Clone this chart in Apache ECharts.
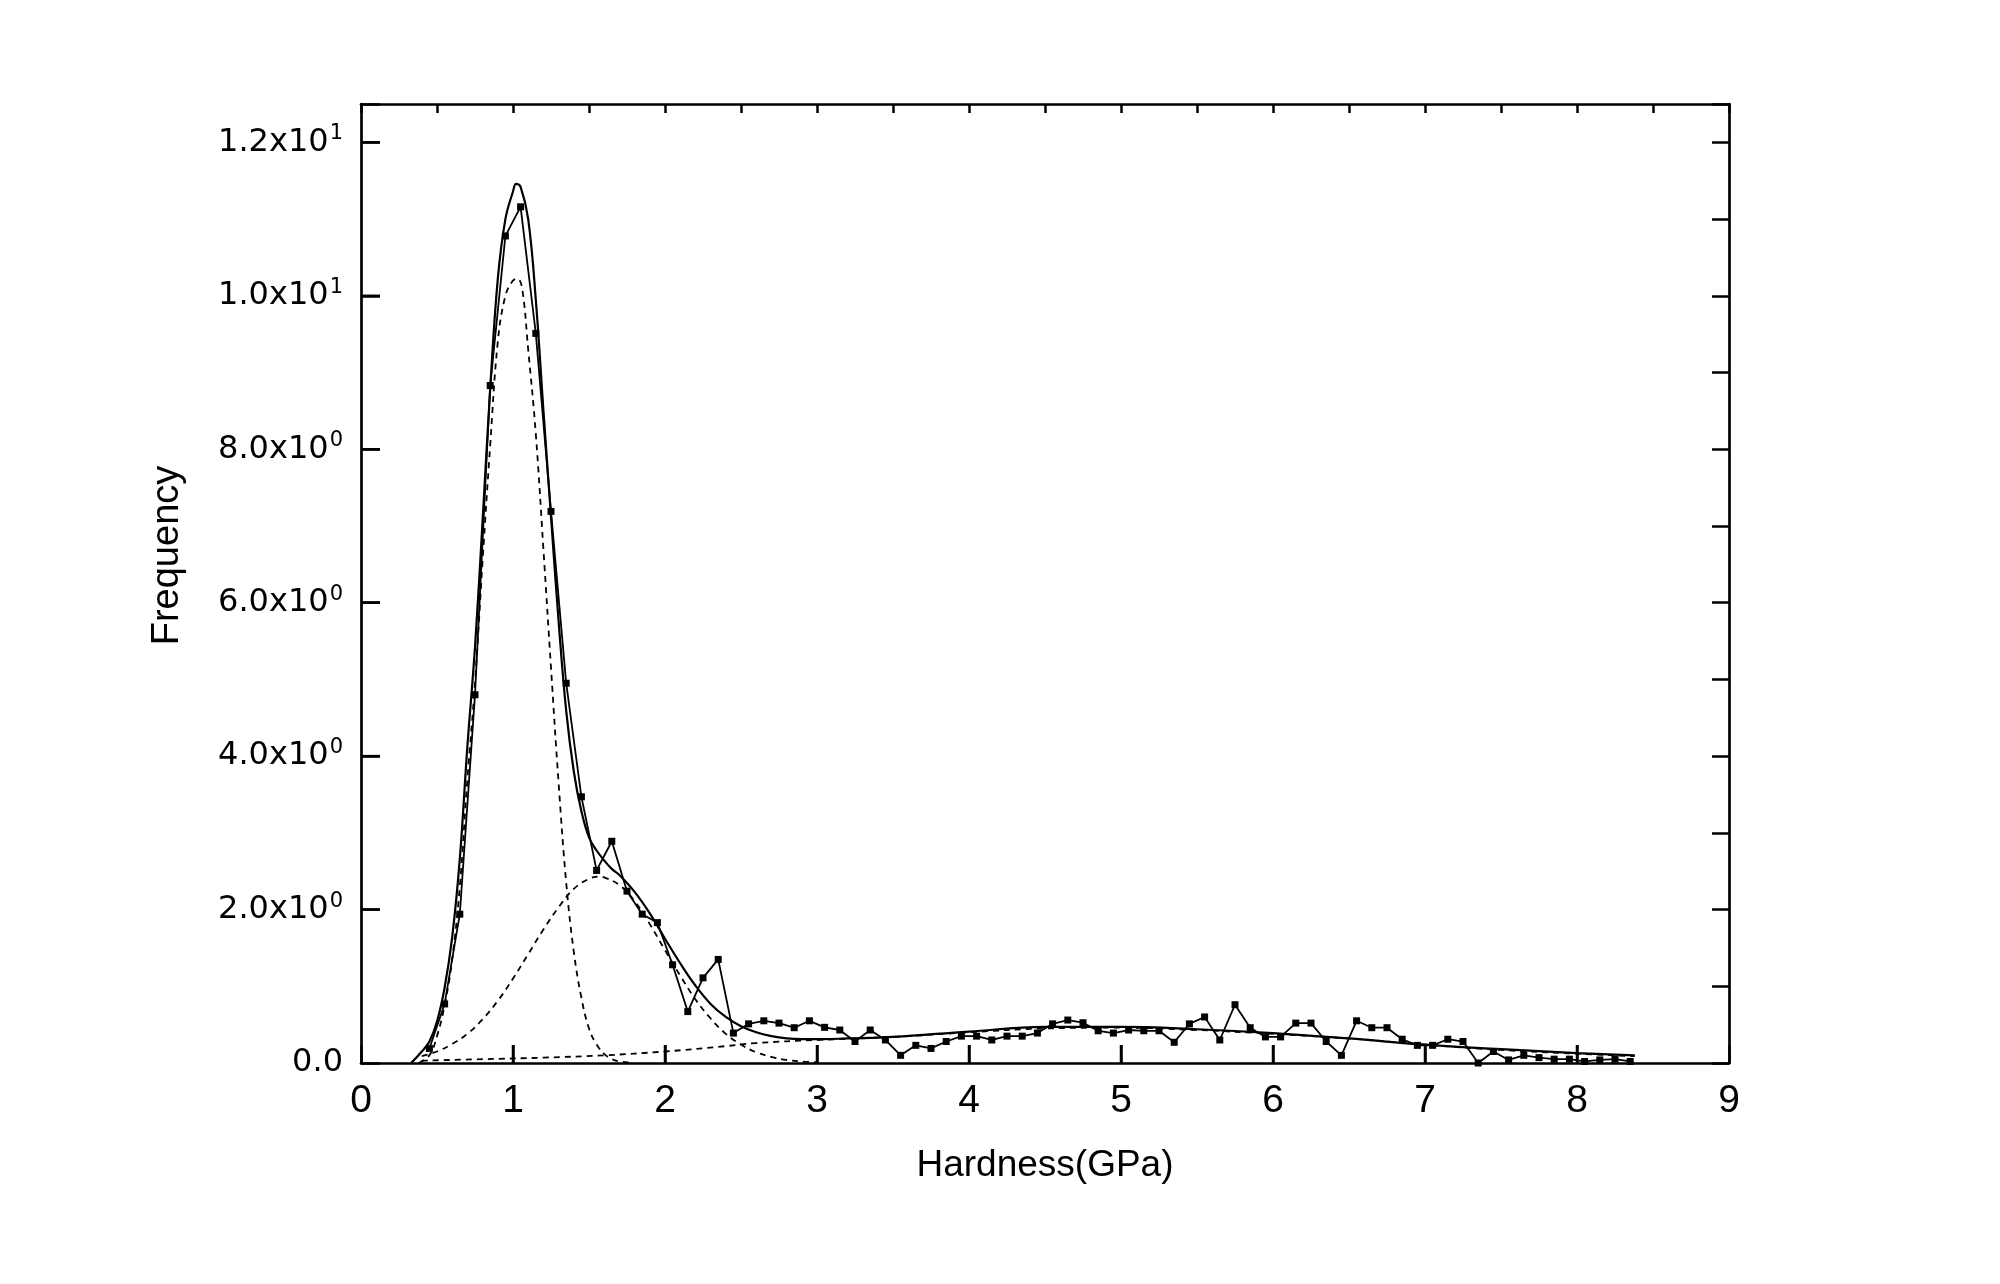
<!DOCTYPE html>
<html>
<head>
<meta charset="utf-8">
<script src="https://cdn.jsdelivr.net/npm/echarts@6/dist/echarts.min.js"></script>
<style>
html,body{margin:0;padding:0;background:#fff;}
#chart{width:2000px;height:1284px;}
</style>
</head>
<body>
<div id="chart"></div>
<script>
// ---- data ----
const hardnessBins = [0.45,0.55,0.65,0.75,0.85,0.95,1.05,1.15,1.25,1.35,
  1.45,1.55,1.65,1.75,1.85,1.95,2.05,2.15,2.25,2.35,
  2.45,2.55,2.65,2.75,2.85,2.95,3.05,3.15,3.25,3.35,
  3.45,3.55,3.65,3.75,3.85,3.95,4.05,4.15,4.25,4.35,
  4.45,4.55,4.65,4.75,4.85,4.95,5.05,5.15,5.25,5.35,
  5.45,5.55,5.65,5.75,5.85,5.95,6.05,6.15,6.25,6.35,
  6.45,6.55,6.65,6.75,6.85,6.95,7.05,7.15,7.25,7.35,
  7.45,7.55,7.65,7.75,7.85,7.95,8.05,8.15,8.25,8.35];
const frequency = [0.19,0.77,1.94,4.80,8.83,10.78,11.16,9.51,7.19,4.95,
  3.47,2.51,2.89,2.24,1.94,1.83,1.28,0.67,1.11,1.35,
  0.39,0.51,0.55,0.52,0.46,0.55,0.465,0.43,0.28,0.43,
  0.30,0.10,0.23,0.19,0.28,0.35,0.35,0.30,0.35,0.35,
  0.39,0.51,0.56,0.525,0.42,0.39,0.43,0.42,0.42,0.27,
  0.51,0.60,0.30,0.76,0.46,0.34,0.34,0.52,0.52,0.28,
  0.10,0.55,0.46,0.46,0.31,0.23,0.23,0.31,0.28,0.0,
  0.15,0.04,0.10,0.07,0.05,0.05,0.02,0.04,0.05,0.02];

const fitX = [0.33,0.40,0.45,0.50,0.55,0.60,0.65,0.70,0.75,0.80,0.85,0.90,0.95,1.00,1.02,1.05,1.10,1.15,1.20,1.25,1.30,1.35,1.40,1.45,1.50,1.55,1.60,1.65,1.70,1.80,1.90,2.00,2.10,2.20,2.30,2.40,2.50,2.60,2.70,2.80,2.90,3.00,3.20,3.50,4.00,4.50,5.00,5.50,6.00,6.50,7.00,7.50,8.00,8.38];
const fitY = [0.0,0.15,0.28,0.54,0.98,1.64,2.66,4.13,5.42,7.07,8.79,10.22,11.0,11.36,11.46,11.42,11.0,9.95,8.51,7.12,5.76,4.59,3.80,3.28,2.94,2.77,2.64,2.53,2.45,2.23,1.95,1.62,1.30,1.01,0.77,0.60,0.48,0.40,0.35,0.32,0.31,0.31,0.32,0.34,0.41,0.47,0.47,0.44,0.39,0.32,0.24,0.18,0.13,0.10];

const peak1X = [0.38,0.45,0.50,0.55,0.60,0.65,0.70,0.75,0.80,0.85,0.90,0.95,1.00,1.03,1.06,1.10,1.15,1.20,1.25,1.30,1.35,1.40,1.45,1.50,1.55,1.60,1.65,1.70,1.80];
const peak1Y = [0.0,0.10,0.35,0.75,1.35,2.3,3.7,4.95,6.55,8.05,9.4,10.0,10.2,10.22,10.1,9.3,8.2,6.7,5.15,3.65,2.35,1.45,0.85,0.45,0.24,0.12,0.05,0.02,0.0];

const peak2X = [0.40,0.50,0.60,0.70,0.80,0.90,1.00,1.10,1.20,1.30,1.40,1.50,1.57,1.60,1.70,1.80,1.90,2.00,2.10,2.20,2.30,2.40,2.50,2.60,2.70,2.80,2.90,3.00];
const peak2Y = [0.09,0.15,0.25,0.38,0.57,0.81,1.10,1.42,1.74,2.03,2.27,2.40,2.43,2.42,2.32,2.11,1.81,1.47,1.14,0.83,0.58,0.38,0.24,0.14,0.08,0.04,0.02,0.01];

const broadX = [0.40,0.80,1.20,1.60,2.00,2.40,2.60,3.00,3.50,4.00,4.50,5.00,5.50,6.00,6.50,7.00,7.50,8.00,8.38];
const broadY = [0.03,0.05,0.07,0.10,0.15,0.22,0.26,0.30,0.34,0.40,0.45,0.46,0.43,0.38,0.32,0.24,0.17,0.12,0.09];

const xTickLabels = ['0','1','2','3','4','5','6','7','8','9'];
const xMajorTicks = [1,2,3,4,5,6,7,8];
const yTickValues = [0,2,4,6,8,10,12];
const yMajorTicks = [2,4,6,8,10,12];
const yTickMantissa = ['0.0','2.0x10','4.0x10','6.0x10','8.0x10','1.0x10','1.2x10'];
const yTickExponent = ['','0','0','0','0','1','1'];

// ---- chart ----
const X_MAX = 9, Y_MAX = 12.5;
const zip = (xs, ys) => xs.map((x, i) => [x, ys[i]]);
const chart = echarts.init(document.getElementById('chart'), null, {renderer: 'canvas'});
const FONT = 'Liberation Sans, Arial, sans-serif';
const YFONT = 'DejaVu Sans, Liberation Sans, sans-serif';
const frame = {show: true, onZero: false, lineStyle: {color: '#000', width: 2.7}};
const tick = len => ({show: true, inside: true, length: len, lineStyle: {color: '#000', width: 2.5}});

const option = {
  backgroundColor: '#fff',
  animation: false,
  grid: {left: 361, right: 271, top: 104, bottom: 221, containLabel: false},
  xAxis: [
    {
      type: 'value', position: 'bottom', min: 0, max: X_MAX, interval: 1,
      name: 'Hardness(GPa)', nameLocation: 'middle', nameGap: 84,
      nameTextStyle: {fontFamily: FONT, fontSize: 37, color: '#000'},
      axisLine: frame,
      axisTick: tick(18),
      axisLabel: {show: true, margin: 19, fontFamily: FONT, fontSize: 39, color: '#000',
        formatter: v => { const i = Math.round(v); return Math.abs(v - i) < 1e-6 ? xTickLabels[i] : ''; }},
      splitLine: {show: false}
    },
    {
      type: 'value', position: 'top', min: 0, max: X_MAX, interval: 0.5,
      axisLine: frame, axisTick: tick(9),
      axisLabel: {show: false}, splitLine: {show: false}
    }
  ],
  yAxis: [
    {
      type: 'value', position: 'left', min: 0, max: Y_MAX, interval: 2,
      name: 'Frequency', nameLocation: 'middle', nameGap: 174, nameRotate: 90,
      nameTextStyle: {fontFamily: FONT, fontSize: 38, color: '#000', padding: [0, 0, 0, 56]},
      axisLine: frame,
      axisTick: tick(19),
      axisLabel: {
        show: true, margin: 18, color: '#000',
        formatter: v => {
          const i = yTickValues.indexOf(Math.round(v * 1000) / 1000);
          if (i < 0) return '';
          if (!yTickExponent[i]) return '{m|' + yTickMantissa[i] + '}';
          return '{m|' + yTickMantissa[i] + '}{s|' + yTickExponent[i] + '}';
        },
        rich: {
          m: {fontFamily: YFONT, fontSize: 32, lineHeight: 38, color: '#000'},
          s: {fontFamily: YFONT, fontSize: 21, lineHeight: 21, verticalAlign: 'top', color: '#000', padding: [0, 0, 2, 1]}
        }
      },
      splitLine: {show: false}
    },
    {
      type: 'value', position: 'right', min: 0, max: Y_MAX, interval: 1,
      axisLine: frame, axisTick: tick(17),
      axisLabel: {show: false}, splitLine: {show: false}
    }
  ],
  series: [
    {
      name: 'peak1', type: 'line', smooth: 0.4, showSymbol: false, symbol: 'none',
      data: zip(peak1X, peak1Y),
      lineStyle: {color: '#000', width: 1.8, type: [6, 5]}
    },
    {
      name: 'peak2', type: 'line', smooth: 0.4, showSymbol: false, symbol: 'none',
      data: zip(peak2X, peak2Y),
      lineStyle: {color: '#000', width: 1.8, type: [6, 5]}
    },
    {
      name: 'broad', type: 'line', smooth: 0.4, showSymbol: false, symbol: 'none',
      data: zip(broadX, broadY),
      lineStyle: {color: '#000', width: 1.8, type: [6, 5]}
    },
    {
      name: 'fit', type: 'line', smooth: 0.4, showSymbol: false, symbol: 'none',
      data: zip(fitX, fitY),
      lineStyle: {color: '#000', width: 2.2}
    },
    {
      name: 'data', type: 'line', smooth: false, symbol: 'rect', symbolSize: 7, showSymbol: true,
      data: zip(hardnessBins, frequency),
      itemStyle: {color: '#000'},
      lineStyle: {color: '#000', width: 1.8}
    }
  ]
};
chart.setOption(option);

// Inward major ticks of the bottom and left axes, placed through the chart's own scales.
const tickGraphics = [];
xMajorTicks.forEach(v => {
  const p = chart.convertToPixel({xAxisIndex: 0, yAxisIndex: 0}, [v, 0]);
  tickGraphics.push({type: 'line', z: 100, silent: true,
    shape: {x1: p[0], y1: p[1], x2: p[0], y2: p[1] - 18},
    style: {stroke: '#000', lineWidth: 2.5}});
});
yMajorTicks.forEach(v => {
  const p = chart.convertToPixel({xAxisIndex: 0, yAxisIndex: 0}, [0, v]);
  tickGraphics.push({type: 'line', z: 100, silent: true,
    shape: {x1: p[0], y1: p[1], x2: p[0] + 19, y2: p[1]},
    style: {stroke: '#000', lineWidth: 2.5}});
});
chart.setOption({graphic: {elements: tickGraphics}});
</script>
</body>
</html>
